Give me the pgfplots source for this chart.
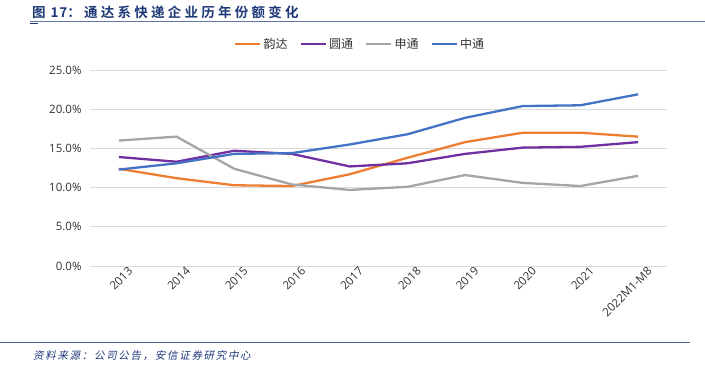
\documentclass[border=0pt]{standalone}
\usepackage{fontspec}
\usepackage{pgfplots}
\pgfplotsset{compat=1.18}
\setmainfont{Open Sans}
\newfontfamily\cjk{Noto Sans CJK SC}
\newfontfamily\cjkb[LetterSpace=24]{Noto Sans CJK SC Bold}
\newfontfamily\latb[LetterSpace=6]{Noto Sans CJK SC Bold}
\newfontfamily\cjki[FakeSlant=0.2,LetterSpace=16]{Noto Sans CJK SC}
\definecolor{cOr}{RGB}{237,125,49}
\definecolor{cPu}{RGB}{112,48,160}
\definecolor{cGr}{RGB}{165,165,165}
\definecolor{cBl}{RGB}{68,114,196}
\definecolor{cTitle}{RGB}{31,56,120}
\definecolor{cTick}{RGB}{50,50,50}
\begin{document}
\begin{tikzpicture}
\useasboundingbox (-90pt,266pt) rectangle (615pt,-110pt);
\begin{axis}[
  at={(0pt,0pt)}, anchor=south west,
  scale only axis, width=577pt, height=196pt,
  xmin=-0.5, xmax=9.5, ymin=0, ymax=25,
  axis line style={draw=none},
  major tick length=0pt,
  ymajorgrids, grid style={draw=black!15, line width=0.8pt},
  ytick={0,5,10,15,20,25},
  yticklabel={\pgfmathprintnumber[fixed,fixed zerofill,precision=1]{\tick}\%},
  /pgf/number format/assume math mode=true,
  yticklabel style={font=\fontsize{11.5}{11.5}\selectfont, text=cTick, xshift=-5pt},
  xtick={0,...,9},
  xticklabels={2013,2014,2015,2016,2017,2018,2019,2020,2021,2022M1-M8},
  xticklabel style={font=\fontsize{11.5}{11.5}\selectfont, text=cTick, rotate=45, anchor=north east, inner sep=1pt, xshift=7pt, yshift=-5pt},
  legend columns=4,
  legend style={at={(0.468,1.0)}, anchor=south, yshift=16pt, draw=none, fill=none,
    font=\fontsize{12}{12}\selectfont\cjk, text=cTick,
    /tikz/every even column/.append style={column sep=10pt}},
  legend image code/.code={\draw[#1, line width=2.5pt] (0pt,0pt) -- (25pt,0pt);},
  every axis plot/.append style={line width=2.3pt, no markers},
]
\addplot[cOr] coordinates {(0,12.4) (1,11.2) (2,10.3) (3,10.2) (4,11.7) (5,13.8) (6,15.8) (7,17.0) (8,17.0) (9,16.5)};
\addplot[cPu] coordinates {(0,13.9) (1,13.3) (2,14.7) (3,14.3) (4,12.7) (5,13.1) (6,14.3) (7,15.1) (8,15.2) (9,15.8)};
\addplot[cGr] coordinates {(0,16.0) (1,16.5) (2,12.4) (3,10.4) (4,9.7) (5,10.1) (6,11.6) (7,10.6) (8,10.2) (9,11.5)};
\addplot[cBl] coordinates {(0,12.3) (1,13.1) (2,14.3) (3,14.4) (4,15.5) (5,16.8) (6,18.9) (7,20.4) (8,20.5) (9,21.9)};
\legend{韵达,圆通,申通,中通}
\end{axis}
\node[anchor=west, inner sep=0, text=cTitle, font=\fontsize{13.5}{13.5}\selectfont] at (-58pt,254pt) {{\cjkb 图}\hspace{5pt}{\latb 17}{\cjkb ：通达系快递企业历年份额变化}};
\draw[cTitle!70, line width=0.8pt] (-60pt,245pt) -- (615pt,245pt);
\draw[cTitle, line width=1.5pt] (-60pt,242.5pt) -- (-52pt,242.5pt);
\draw[cTitle!80, line width=1pt] (-90pt,-76pt) -- (600pt,-76pt);
\node[anchor=west, inner sep=0, text=cTitle, font=\fontsize{10.5}{10.5}\selectfont\cjki] at (-57pt,-90pt) {资料来源：公司公告，安信证券研究中心};
\end{tikzpicture}
\end{document}
